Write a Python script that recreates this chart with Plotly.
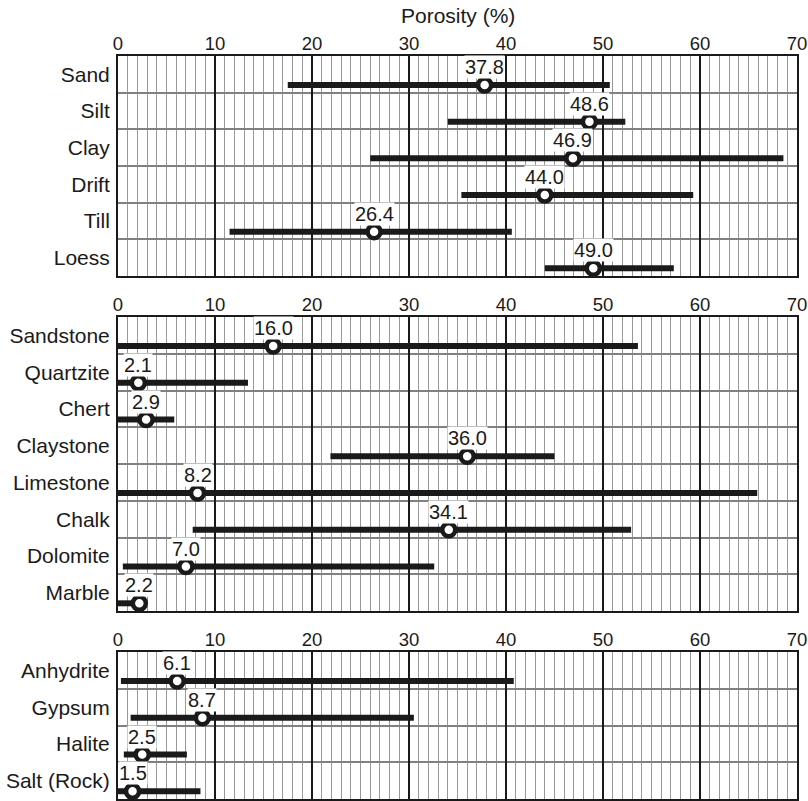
import plotly.graph_objects as go

# Porosity ranges (min, max) and representative values, in percent
unconsol_names = ["Sand", "Silt", "Clay", "Drift", "Till", "Loess"]
unconsol_mean = [37.8, 48.6, 46.9, 44.0, 26.4, 49.0]
unconsol_min = [17.5, 34.0, 26.0, 35.4, 11.5, 44.0]
unconsol_max = [50.7, 52.3, 68.6, 59.3, 40.6, 57.3]

rock_names = ["Sandstone", "Quartzite", "Chert", "Claystone",
              "Limestone", "Chalk", "Dolomite", "Marble"]
rock_mean = [16.0, 2.1, 2.9, 36.0, 8.2, 34.1, 7.0, 2.2]
rock_min = [0.0, 0.0, 0.0, 21.9, 0.0, 7.7, 0.5, 0.0]
rock_max = [53.6, 13.4, 5.8, 45.0, 65.9, 52.9, 32.6, 2.6]

evap_names = ["Anhydrite", "Gypsum", "Halite", "Salt (Rock)"]
evap_mean = [6.1, 8.7, 2.5, 1.5]
evap_min = [0.3, 1.3, 0.6, 0.0]
evap_max = [40.8, 30.5, 7.1, 8.5]

x_ticks = list(range(0, 71, 10))

groups = [
    (unconsol_names, unconsol_mean, unconsol_min, unconsol_max),
    (rock_names, rock_mean, rock_min, rock_max),
    (evap_names, evap_mean, evap_min, evap_max),
]

# vertical extents of the three panels (paper fraction, bottom to top)
domains = [(0.7039, 1.0), (0.2530, 0.6487), (0.0, 0.1978)]
BAR_OFFSET = 0.29  # range bars sit a little below each row's label
FONT = "Liberation Sans, Arial, Helvetica, sans-serif"
INK = "#1a1a1a"

fig = go.Figure()
annotations = []

for k, (names, means, mins, maxs) in enumerate(groups, start=1):
    xa = "x" if k == 1 else f"x{k}"
    ya = "y" if k == 1 else f"y{k}"
    n = len(names)
    for i in range(n):
        yb = i + BAR_OFFSET
        fig.add_trace(go.Scatter(
            x=[mins[i], maxs[i]], y=[yb, yb], mode="lines",
            line=dict(color=INK, width=6),
            xaxis=xa, yaxis=ya, showlegend=False, hoverinfo="skip",
        ))
        fig.add_trace(go.Scatter(
            x=[means[i]], y=[yb], mode="markers",
            marker=dict(size=13, color="white",
                        line=dict(color=INK, width=4.5)),
            xaxis=xa, yaxis=ya, showlegend=False,
            hovertemplate=f"{names[i]}: %{{x:.1f}}%<extra></extra>",
        ))
        annotations.append(dict(
            x=means[i], y=yb, xref=xa, yref=ya,
            text=f"{means[i]:.1f}", showarrow=False,
            yanchor="middle", yshift=18,
            bgcolor="white", borderpad=0,
            font=dict(family=FONT, size=20, color=INK),
        ))

    fig.layout[f"xaxis{'' if k == 1 else k}"] = dict(
        range=[0, 70], side="top", anchor=ya,
        tickmode="array", tickvals=x_ticks,
        ticks="", showticklabels=True, ticklabeloverflow="allow",
        ticklabelstandoff=-3,
        tickfont=dict(family=FONT, size=18.5, color=INK),
        showgrid=True, gridcolor=INK, gridwidth=2,
        minor=dict(dtick=1, tick0=0, showgrid=True,
                   gridcolor="#999999", gridwidth=1),
        showline=True, mirror=True, linecolor=INK, linewidth=2,
        zeroline=False, fixedrange=True, automargin=False,
    )
    fig.layout[f"yaxis{'' if k == 1 else k}"] = dict(
        domain=list(domains[k - 1]), anchor=xa,
        range=[n - 0.5, -0.5],
        tickmode="array", tickvals=list(range(n)), ticktext=names,
        ticks="", ticklabelstandoff=2,
        tickfont=dict(family=FONT, size=21, color=INK),
        showgrid=False,
        minor=dict(tickmode="array",
                   tickvals=[i + 0.5 for i in range(n - 1)],
                   showgrid=True, gridcolor="#808080", gridwidth=1.5),
        showline=True, mirror=True, linecolor=INK, linewidth=2,
        zeroline=False, fixedrange=True, automargin=False,
    )

annotations.append(dict(
    x=0.5, y=1, xref="paper", yref="paper", yanchor="middle", yshift=41,
    text="Porosity (%)", showarrow=False,
    font=dict(family=FONT, size=21, color=INK),
))

fig.update_layout(
    width=808, height=801,
    margin=dict(l=118, r=11, t=56, b=2),
    paper_bgcolor="white", plot_bgcolor="white",
    annotations=annotations,
    showlegend=False,
)

fig.write_html("out.html")
